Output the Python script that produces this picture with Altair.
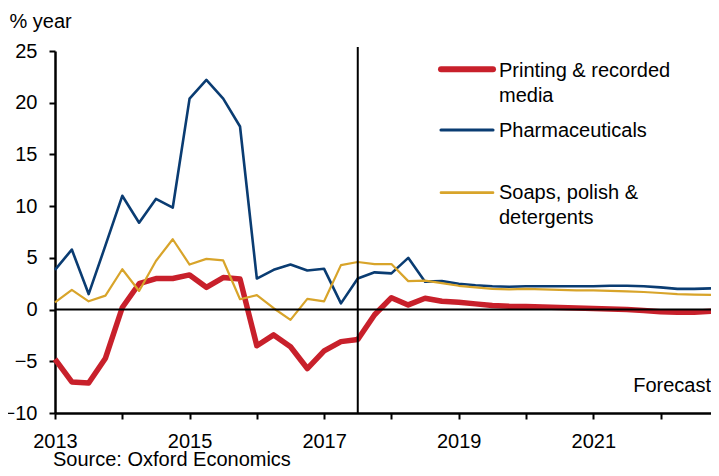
import altair as alt
import pandas as pd

# ---------------- data ----------------
quarters = [f"{y}Q{q}" for y in range(2013, 2023) for q in range(1, 5)]

series_names = ["Printing & recorded media", "Pharmaceuticals", "Soaps, polish & detergents"]

printing = [-4.8, -7.0, -7.1, -4.7, 0.2, 2.5, 3.0, 3.0,
            3.35, 2.15, 3.1, 2.95, -3.5, -2.45, -3.6, -5.7,
            -4.0, -3.1, -2.9, -0.5, 1.15, 0.45, 1.1, 0.8,
            0.7, 0.55, 0.4, 0.33, 0.3, 0.25, 0.2, 0.15,
            0.1, 0.05, 0.0, -0.1, -0.2, -0.25, -0.25, -0.15]

pharma = [3.84, 5.8, 1.5, 6.2, 11.0, 8.4, 10.7, 9.85,
          20.4, 22.2, 20.4, 17.7, 3.0, 3.84, 4.35, 3.78,
          3.94, 0.6, 3.0, 3.6, 3.5, 5.0, 2.7, 2.75,
          2.5, 2.35, 2.25, 2.2, 2.25, 2.25, 2.25, 2.25,
          2.25, 2.3, 2.3, 2.25, 2.15, 2.0, 2.0, 2.05]

soaps = [0.7, 1.9, 0.8, 1.35, 3.9, 1.8, 4.7, 6.8,
         4.35, 4.9, 4.75, 1.0, 1.4, 0.13, -1.0, 1.03,
         0.8, 4.3, 4.6, 4.4, 4.4, 2.75, 2.8, 2.55,
         2.3, 2.15, 2.0, 1.95, 2.0, 1.95, 1.9, 1.85,
         1.85, 1.8, 1.75, 1.7, 1.6, 1.5, 1.45, 1.42]

legend_lines = [["Printing & recorded", "media"], ["Pharmaceuticals"], ["Soaps, polish &", "detergents"]]

forecast_start = "2017Q3"
forecast_label = "Forecast"
y_title = "% year"
source_text = "Source: Oxford Economics"
y_ticks = [-10, -5, 0, 5, 10, 15, 20, 25]
x_ticks = list(range(2013, 2023))

# ---------------- styles ----------------
colors = ["#C8202B", "#0A3C72", "#D8A42A"]
widths = [5.5, 2.6, 2.2]
FONT = "Liberation Sans"
FS = 20
W, H = 656, 362


def qnum(q):
    return int(q[:4]) + (int(q[-1]) - 1) / 4


x_scale = alt.Scale(domain=[2013, qnum(quarters[-1])], nice=False, zero=False)
y_scale = alt.Scale(domain=[-10, 25], nice=False, zero=False)

x_axis = alt.Axis(values=x_ticks, format="d",
                  labelExpr="datum.value % 2 == 1 ? datum.label : ''",
                  title=None, grid=False, domainColor="black", domainWidth=2.5,
                  tickColor="black", tickWidth=2, tickSize=6, labelPadding=12,
                  labelFontSize=FS, labelFont=FONT, labelColor="black",
                  labelFlush=False, labelOverlap=False)

y_axis = alt.Axis(values=y_ticks, title=y_title, titleAngle=0, titleX=-46, titleY=-24,
                  titleAlign="left", titleBaseline="alphabetic", titleFontSize=FS,
                  titleFont=FONT, titleFontWeight="normal", titleColor="black",
                  grid=False, domainColor="black", domainWidth=2.5,
                  tickColor="black", tickWidth=2, tickSize=6, labelPadding=12,
                  labelFontSize=FS, labelFont=FONT, labelColor="black",
                  labelOverlap=False)


def X():
    return alt.X("t:Q", scale=x_scale, axis=x_axis)


def Y():
    return alt.Y("v:Q", scale=y_scale, axis=y_axis)


layers = []

for name, vals, col, sw in zip(series_names, [printing, pharma, soaps], colors, widths):
    d = pd.DataFrame({"t": [qnum(q) for q in quarters], "v": vals, "series": name})
    layers.append(alt.Chart(d).mark_line(color=col, strokeWidth=sw, strokeJoin="round",
                                         strokeCap="butt").encode(x=X(), y=Y()))

# zero line
zero_df = pd.DataFrame({"v": [0]})
layers.append(alt.Chart(zero_df).mark_rule(color="black", strokeWidth=2).encode(
    y=Y(), x=alt.value(0), x2=alt.value(W)))

# forecast vertical line
fc_df = pd.DataFrame({"t": [qnum(forecast_start)]})
layers.append(alt.Chart(fc_df).mark_rule(color="black", strokeWidth=2).encode(
    x=X(), y=alt.value(-4), y2=alt.value(H)))

# forecast label
fl_df = pd.DataFrame({"t": [qnum(quarters[-1])], "v": [-8.0], "label": [forecast_label]})
layers.append(alt.Chart(fl_df).mark_text(align="right", baseline="alphabetic", font=FONT,
                                         fontSize=FS, color="black").encode(
    x=X(), y=Y(), text="label:N"))

# manual legend
leg_line_y = [18.3, 79, 141.7]
leg_text_y = [[26, 50.5], [86], [148.3, 172.7]]
for lines, col, sw, ly, tys in zip(legend_lines, colors, widths, leg_line_y, leg_text_y):
    one = pd.DataFrame({"k": [0]})
    layers.append(alt.Chart(one).mark_rule(color=col, strokeWidth=sw + 0.5, strokeCap="round").encode(
        x=alt.value(386), x2=alt.value(438), y=alt.value(ly)))
    for txt, ty in zip(lines, tys):
        tdf = pd.DataFrame({"label": [txt]})
        layers.append(alt.Chart(tdf).mark_text(align="left", baseline="alphabetic", font=FONT,
                                               fontSize=FS, color="black").encode(
            x=alt.value(444), y=alt.value(ty), text="label:N"))

# source
src_df = pd.DataFrame({"label": [source_text]})
layers.append(alt.Chart(src_df).mark_text(align="left", baseline="alphabetic", font=FONT,
                                          fontSize=FS, color="black").encode(
    x=alt.value(-2), y=alt.value(415), text="label:N"))

chart = alt.layer(*layers).properties(
    width=W, height=H,
    autosize=alt.AutoSizeParams(type="none"),
    padding={"left": 47, "top": 43, "right": 0, "bottom": 55},
    background="white",
).configure_view(stroke=None)

chart.save("out.html", embed_options={"renderer": "svg", "actions": False})
